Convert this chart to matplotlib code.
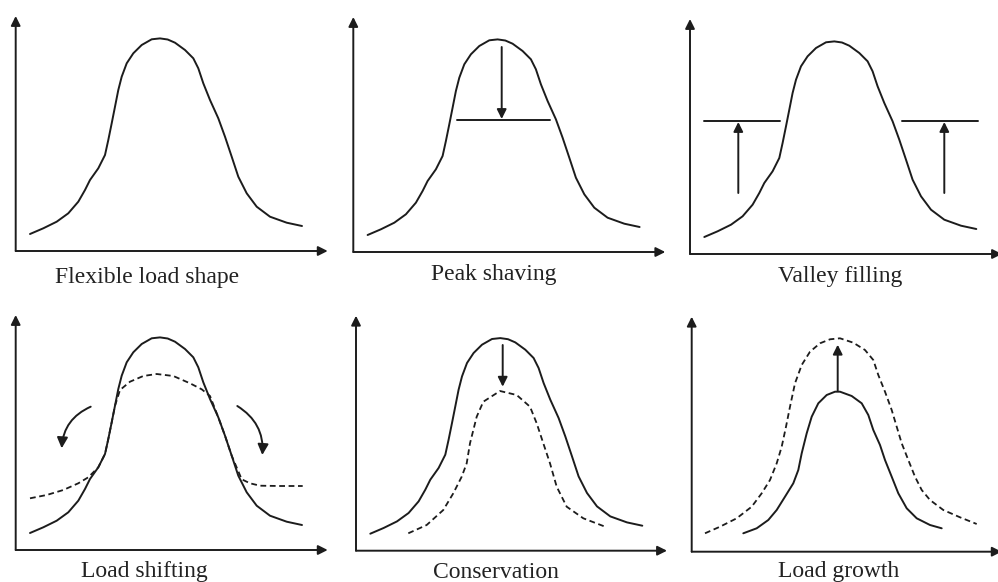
import matplotlib
matplotlib.use('Agg')
import matplotlib.pyplot as plt
from matplotlib.patches import FancyArrowPatch

plt.rcParams['font.family'] = ['Liberation Serif', 'DejaVu Serif']

INK = '#1c1c1c'

# base load curve (pixel units from each panel's origin)
base_x = [14.3, 27.6, 41, 52.6, 62.6, 69.3, 74.3, 82.6, 89.3, 92.6, 96, 99.3, 102.6,
          106, 111, 117.6, 126, 136, 144.3, 152, 159.3, 169.3, 177.6, 182.6, 187.6,
          194.3, 202.6, 209.3, 216, 222.6, 231, 241, 254.3, 271, 286.3]
base_y = [17, 22.7, 29.3, 37.7, 49.3, 61, 71, 82.7, 96, 111, 127.7, 144.3, 161,
          174.3, 187.7, 197.7, 206, 211.7, 212.6, 211.5, 208.3, 201, 192.7, 182.7, 167.7,
          151, 132.7, 114.3, 94.3, 74.3, 57.7, 44.3, 34.3, 28.3, 25]

# load shifting: reshaped curve
shift_x = [14.3, 31, 47.6, 62.6, 72.6, 82.6, 89.3, 92.6, 96, 99.3, 104.3, 114.3,
           127.6, 141, 157.6, 174.3, 186, 194.3, 202.6, 209.3, 216, 226, 234.3,
           244.3, 264.3, 287]
shift_y = [51.7, 55, 60, 66.7, 72.7, 82.7, 96, 111, 127.7, 144.3, 160, 168.3,
           174, 176, 174, 166.7, 160.7, 154, 132.7, 114.3, 94.3, 70.7, 66.7,
           64.3, 64, 64]

# conservation: reduced curve
cons_x = [52.3, 70.7, 87.3, 97.3, 105.7, 110.7, 114, 120.7, 127.3, 144, 160.7,
          174, 180.7, 187.3, 194, 200.7, 210.7, 227.3, 250.7]
cons_y = [17.4, 25.7, 40.7, 57.4, 74, 87.4, 107.4, 134, 149, 159.7, 155.7,
          144, 127.4, 107.4, 87.4, 64, 44, 32.4, 23.4]

# load growth: original (smaller) and grown curve
small_x = [51.6, 65, 76.6, 85, 93.3, 101.6, 106.6, 110, 115, 120, 126.6, 135, 143.3,
           148.3, 160, 170, 176.6, 181.6, 188.3, 193.3, 200, 206.6, 215, 225, 238.3, 250]
small_y = [18.4, 23.4, 31.7, 41.7, 55, 68.4, 81.7, 98.4, 118.4, 135, 148.4, 156.7, 160,
           160, 155.7, 148.4, 136.7, 121.7, 106.7, 91.7, 75, 58.4, 43.4, 33.4, 26.7, 23.4]
grow_x = [13.3, 28.3, 45, 60, 70, 78.3, 85, 90, 94.3, 98.3, 103.3, 110, 118.3, 128.3,
          138.3, 148.3, 161.6, 173.3, 181.6, 186.6, 193.3, 200, 205, 210, 216.6, 223.3,
          230, 238.3, 251.6, 268.3, 285]
grow_y = [18.4, 25, 33.4, 45, 58.4, 71.7, 88.4, 105, 125, 145, 168.4, 186.7, 200, 208.4,
          212.4, 213.4, 209, 201.7, 191.7, 176.7, 160, 141.7, 125, 108.4, 91.7, 75,
          61.7, 51.7, 41.7, 34.4, 27.7]

titles = ['Flexible load shape', 'Peak shaving', 'Valley filling',
          'Load shifting', 'Conservation', 'Load growth']
# panel origins in the image (px) and label placement
origins = [(15.7, 251), (353.3, 252), (690, 254),
           (15.7, 550), (356, 550.7), (691.7, 551.7)]
label_pos = [(131, -32), (140.7, -28), (150, -28),
             (129, -27), (140, -27), (147, -25)]
x_len = [312, 312, 312, 312, 311, 310]
y_len = 235

W, H = 998, 582
fig = plt.figure(figsize=(W / 100, H / 100), dpi=100)
fig.patch.set_facecolor('white')

axes = []
for (x0, y0) in origins:
    ax = fig.add_axes([(x0 - 20) / W, (H - y0 - 40) / H, 340 / W, 285 / H])
    ax.set_xlim(-20, 320)
    ax.set_ylim(-40, 245)
    ax.axis('off')
    axes.append(ax)


def arrow(ax, p1, p2, lw=1.4, scale=14, rad=0.0):
    a = FancyArrowPatch(p1, p2, arrowstyle='-|>', mutation_scale=scale, lw=lw,
                        color=INK, shrinkA=0, shrinkB=0,
                        connectionstyle='arc3,rad=%s' % rad)
    ax.add_patch(a)


for i, ax in enumerate(axes):
    arrow(ax, (0, 0), (x_len[i], 0))
    arrow(ax, (0, 0), (0, y_len))
    ax.text(label_pos[i][0], label_pos[i][1], titles[i], ha='center',
            va='baseline', fontsize=17, color='#222222')

solid = dict(color=INK, lw=1.4, solid_capstyle='round', solid_joinstyle='round')
dashed = dict(color=INK, lw=1.3, linestyle=(0, (3.2, 2)), dash_joinstyle='round')

# 1 flexible load shape
axes[0].plot(base_x, base_y, **solid)

# 2 peak shaving
axes[1].plot(base_x, base_y, **solid)
axes[1].plot([103.4, 196.7], [132, 132], **solid)
arrow(axes[1], (148.4, 205), (148.4, 133))

# 3 valley filling
axes[2].plot(base_x, base_y, **solid)
axes[2].plot([14.3, 90], [133, 133], **solid)
axes[2].plot([211.7, 287.7], [133, 133], **solid)
arrow(axes[2], (48.3, 61), (48.3, 132))
arrow(axes[2], (254.3, 61), (254.3, 132))

# 4 load shifting
axes[3].plot(base_x, base_y, **solid)
axes[3].plot(shift_x, shift_y, **dashed)
arrow(axes[3], (75, 143.3), (46, 101.7), rad=0.3, scale=16)
arrow(axes[3], (221.6, 144), (246.6, 95), rad=-0.3, scale=16)

# 5 conservation
axes[4].plot(base_x, base_y, **solid)
axes[4].plot(cons_x, cons_y, **dashed)
arrow(axes[4], (146.7, 205.7), (146.7, 164))

# 6 load growth
axes[5].plot(small_x, small_y, **solid)
axes[5].plot(grow_x, grow_y, **dashed)
arrow(axes[5], (146, 161), (146, 207))

fig.savefig('out.png', dpi=100, facecolor='white')
